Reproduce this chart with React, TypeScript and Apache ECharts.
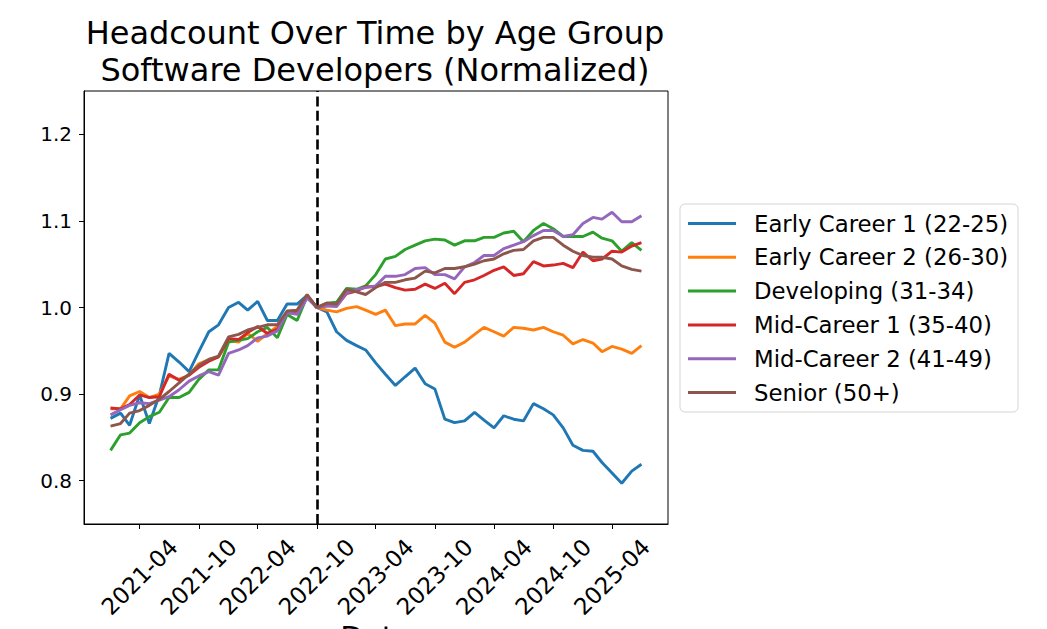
import React, { useEffect, useRef } from "react";
import * as echarts from "echarts";

// ---- data (monthly, starting at START_MONTH) ----
const START_MONTH = "2021-01";
const NORMALIZATION_MONTH = "2022-10";

const seriesNames = [
  "Early Career 1 (22-25)",
  "Early Career 2 (26-30)",
  "Developing (31-34)",
  "Mid-Career 1 (35-40)",
  "Mid-Career 2 (41-49)",
  "Senior (50+)",
];

const seriesColors = ["#1f77b4", "#ff7f0e", "#2ca02c", "#d62728", "#9467bd", "#8c564b"];

const earlyCareer1 = [
  0.872, 0.878, 0.864, 0.899, 0.866, 0.899, 0.947, 0.937, 0.926, 0.949, 0.972, 0.98,
  1.0, 1.006, 0.997, 1.007, 0.985, 0.985, 1.004, 1.004, 1.014, 1.0,
  0.995, 0.972, 0.962, 0.956, 0.951, 0.936, 0.923, 0.91, 0.92, 0.93, 0.912, 0.906,
  0.871, 0.867, 0.869, 0.879, 0.87, 0.861, 0.875, 0.871, 0.869, 0.889, 0.883, 0.876,
  0.861, 0.841, 0.835, 0.834, 0.821, 0.809, 0.797, 0.811, 0.819,
];

const earlyCareer2 = [
  0.883, 0.883, 0.898, 0.903, 0.896, 0.9, 0.921, 0.917, 0.922, 0.935, 0.94, 0.943,
  0.962, 0.96, 0.97, 0.961, 0.97, 0.978, 0.993, 0.995, 1.012, 1.0,
  0.997, 0.995, 0.999, 1.001, 0.997, 0.992, 0.997, 0.979, 0.981, 0.981, 0.991, 0.982,
  0.96, 0.954, 0.96, 0.969, 0.977, 0.972, 0.967, 0.977, 0.976, 0.974, 0.977, 0.972,
  0.968, 0.958, 0.963, 0.959, 0.949, 0.955, 0.952, 0.947, 0.956,
];

const developing = [
  0.835, 0.853, 0.855, 0.867, 0.874, 0.879, 0.896, 0.896, 0.902, 0.917, 0.928, 0.928,
  0.96, 0.962, 0.964, 0.972, 0.977, 0.965, 0.992, 0.985, 1.013, 1.0,
  1.005, 1.006, 1.022, 1.021, 1.025, 1.038, 1.056, 1.059, 1.067, 1.072, 1.077, 1.079,
  1.078, 1.072, 1.077, 1.077, 1.081, 1.081, 1.086, 1.088, 1.076, 1.089, 1.097, 1.091,
  1.082, 1.082, 1.082, 1.087, 1.08, 1.077, 1.065, 1.075, 1.066,
];

const midCareer1 = [
  0.884, 0.883, 0.888, 0.899, 0.896, 0.897, 0.923, 0.916, 0.922, 0.931, 0.938, 0.943,
  0.964, 0.963, 0.971, 0.978, 0.97, 0.975, 0.994, 0.996, 1.014, 1.0,
  1.002, 1.002, 1.016, 1.019, 1.024, 1.024, 1.027, 1.023, 1.02, 1.021, 1.027, 1.022,
  1.028, 1.016, 1.029, 1.032, 1.037, 1.043, 1.047, 1.037, 1.039, 1.053, 1.048, 1.049,
  1.051, 1.046, 1.064, 1.054, 1.056, 1.065, 1.064, 1.071, 1.075,
];

const midCareer2 = [
  0.876, 0.882, 0.887, 0.89, 0.889, 0.893, 0.897, 0.905, 0.915, 0.921, 0.926, 0.922,
  0.947, 0.951, 0.956, 0.965, 0.967, 0.973, 0.994, 0.992, 1.011, 1.0,
  1.002, 1.001, 1.017, 1.021, 1.023, 1.025, 1.036, 1.036, 1.038, 1.045, 1.046, 1.038,
  1.038, 1.033, 1.047, 1.052, 1.06, 1.06, 1.068, 1.072, 1.076, 1.083, 1.089, 1.089,
  1.082, 1.084, 1.097, 1.104, 1.102, 1.11, 1.099, 1.099, 1.106,
];

const senior = [
  0.863, 0.866, 0.878, 0.881, 0.887, 0.894, 0.903, 0.913, 0.923, 0.933, 0.94, 0.944,
  0.966, 0.969, 0.974, 0.977, 0.98, 0.98, 0.996, 0.997, 1.015, 1.0,
  1.005, 1.004, 1.021, 1.018, 1.015, 1.023, 1.029, 1.029, 1.032, 1.034, 1.042, 1.04,
  1.045, 1.045, 1.047, 1.05, 1.054, 1.056, 1.062, 1.066, 1.067, 1.077, 1.081, 1.081,
  1.072, 1.065, 1.06, 1.058, 1.058, 1.056, 1.048, 1.044, 1.042,
];

const seriesValues = [earlyCareer1, earlyCareer2, developing, midCareer1, midCareer2, senior];

const xTickLabels = [
  "2021-04", "2021-10", "2022-04", "2022-10", "2023-04",
  "2023-10", "2024-04", "2024-10", "2025-04",
];
const yTickValues = [0.8, 0.9, 1.0, 1.1, 1.2];
const Y_MIN = 0.75;
const Y_MAX = 1.25;

const FONT = "DejaVu Sans";

function monthTs(ym: string, offset = 0): number {
  const [y, m] = ym.split("-").map(Number);
  return Date.UTC(y, m - 1 + offset, 1);
}

function fmtMonth(ts: number): string {
  const d = new Date(ts);
  const m = d.getUTCMonth() + 1;
  return `${d.getUTCFullYear()}-${m < 10 ? "0" + m : m}`;
}

export default function App() {
  const ref = useRef<HTMLDivElement>(null);

  useEffect(() => {
    if (!ref.current) return;
    const chart = echarts.init(ref.current, undefined, { renderer: "svg" });

    const months = earlyCareer1.map((_, i) => monthTs(START_MONTH, i));
    const first = months[0];
    const last = months[months.length - 1];
    const span = last - first;
    const xMin = first - 0.05 * span;
    const xMax = last + 0.05 * span;
    const xTicks = xTickLabels.map((l) => monthTs(l));

    const series: any[] = seriesNames.map((name, si) => ({
      name,
      type: "line",
      symbol: "none",
      showSymbol: false,
      color: seriesColors[si],
      lineStyle: { width: 2.9, color: seriesColors[si] },
      data: seriesValues[si].map((v, i) => [months[i], v]),
      z: 2 + si,
    }));
    series[0].markLine = {
      silent: true,
      symbol: ["none", "none"],
      label: { show: false },
      lineStyle: { color: "#000", type: [10, 4.4], width: 2.6 },
      data: [{ xAxis: monthTs(NORMALIZATION_MONTH) }],
    };

    chart.setOption({
      animation: false,
      backgroundColor: "#ffffff",
      textStyle: { fontFamily: FONT },
      title: {
        text: "Headcount Over Time by Age Group\nSoftware Developers (Normalized)",
        left: 375,
        top: 15,
        padding: 0,
        textAlign: "center",
        textStyle: {
          fontFamily: FONT,
          fontSize: 32,
          lineHeight: 36.7,
          fontWeight: "normal",
          color: "#000",
        },
      },
      legend: {
        data: seriesNames,
        orient: "vertical",
        left: 680,
        top: 204,
        icon: "rect",
        itemWidth: 48,
        itemHeight: 3,
        itemGap: 10.8,
        padding: [8, 10, 8, 8],
        borderColor: "#d4d4d4",
        borderWidth: 1,
        borderRadius: 5,
        backgroundColor: "#ffffff",
        textStyle: {
          fontFamily: FONT,
          fontSize: 22.8,
          lineHeight: 22.5,
          color: "#000",
          padding: [0, 0, 0, 13],
        },
      },
      grid: {
        left: 84,
        top: 91,
        width: 584,
        height: 433,
        show: true,
        borderColor: "#000",
        borderWidth: 1,
        backgroundColor: "transparent",
        containLabel: false,
        outerBoundsMode: "none",
      },
      xAxis: {
        type: "value",
        min: xMin,
        max: xMax,
        name: "Date",
        nameLocation: "middle",
        nameGap: 98,
        nameMoveOverlap: false,
        nameTextStyle: { fontFamily: FONT, fontSize: 30, color: "#000", verticalAlign: "top" },
        splitLine: { show: false },
        axisLine: { show: true, lineStyle: { color: "#000", width: 1 } },
        axisTick: {
          show: true,
          inside: false,
          length: 5,
          lineStyle: { color: "#000", width: 1 },
          customValues: xTicks,
        },
        axisLabel: {
          customValues: xTicks,
          rotate: 45,
          align: "center",
          verticalAlign: "middle",
          margin: 53,
          fontFamily: FONT,
          fontSize: 23,
          color: "#000",
          formatter: (v: number) => fmtMonth(v),
        },
      },
      yAxis: {
        type: "value",
        min: Y_MIN,
        max: Y_MAX,
        splitLine: { show: false },
        axisLine: { show: true, lineStyle: { color: "#000", width: 1 } },
        axisTick: {
          show: true,
          inside: false,
          length: 5,
          lineStyle: { color: "#000", width: 1 },
          customValues: yTickValues,
        },
        axisLabel: {
          customValues: yTickValues,
          margin: 12,
          fontFamily: FONT,
          fontSize: 20,
          color: "#000",
          formatter: (v: number) => v.toFixed(1),
        },
      },
      series,
    });

    return () => {
      chart.dispose();
    };
  }, []);

  return (
    <div
      ref={ref}
      style={{ position: "absolute", left: 0, top: 0, width: "1047px", height: "629px", background: "#fff" }}
    />
  );
}
